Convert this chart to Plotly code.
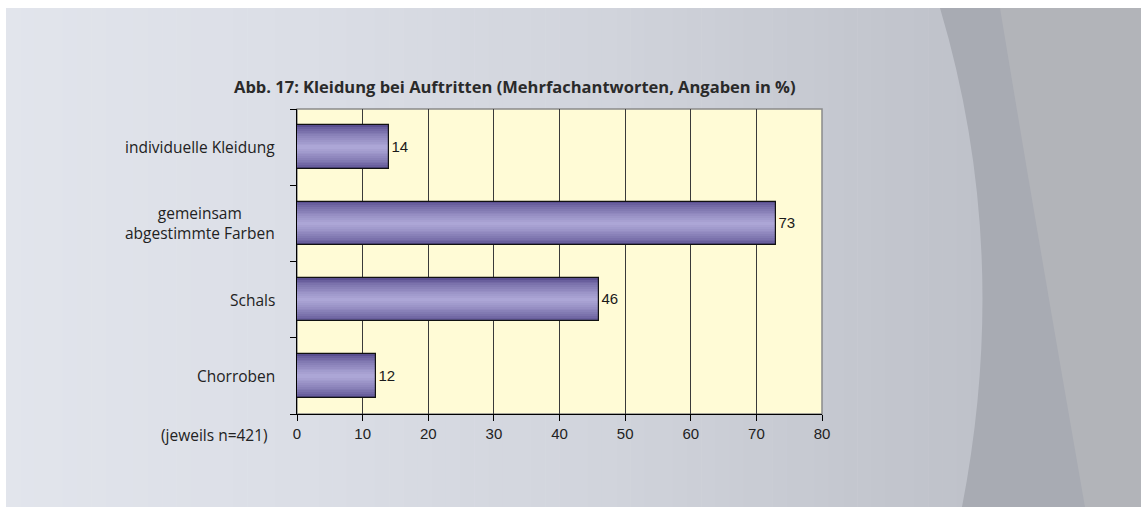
import plotly.graph_objects as go

# ---- data ----
categories = ["individuelle Kleidung", "gemeinsam<br>abgestimmte Farben", "Schals", "Chorroben"]
values = [14, 73, 46, 12]
x_ticks = [0, 10, 20, 30, 40, 50, 60, 70, 80]
title_text = "Abb. 17: Kleidung bei Auftritten (Mehrfachantworten, Angaben in %)"
note_text = "(jeweils n=421)"

W, H = 1141, 508
L, R, T, B = 297, 822, 109, 414  # plot area in pixels


def px(xp):
    return (xp - L) / (R - L)


def py(yp):
    return (B - yp) / (B - T)


def hexmix(c1, c2, t):
    a = [int(c1[i:i + 2], 16) for i in (1, 3, 5)]
    b = [int(c2[i:i + 2], 16) for i in (1, 3, 5)]
    return "#%02x%02x%02x" % tuple(round(a[k] + (b[k] - a[k]) * t) for k in range(3))


fig = go.Figure()

# gradient bars: overlaid layers, outer dark -> inner light
n_layers = 12
full_w = 0.57
dark, light = "#5a4f90", "#aca6d6"
for i in range(n_layers):
    t = i / (n_layers - 1)
    w = full_w * (1 - i / n_layers)
    col = hexmix(dark, light, t ** 0.7)
    fig.add_trace(go.Bar(
        x=values, y=categories, orientation="h", width=w,
        marker=dict(color=col, line=dict(width=0)),
        hoverinfo="skip", showlegend=False,
    ))
# outline + value labels
fig.add_trace(go.Bar(
    x=values, y=categories, orientation="h", width=full_w,
    marker=dict(color="rgba(0,0,0,0)", line=dict(color="#111111", width=1.2)),
    text=[str(v) for v in values], textposition="outside", constraintext="none",
    textfont=dict(family="Liberation Sans, Arial", size=15, color="#1a1a1a"),
    outsidetextfont=dict(family="Liberation Sans, Arial", size=15, color="#1a1a1a"),
    cliponaxis=False, showlegend=False,
))

# ---- background shapes ----
shapes = []
shapes.append(dict(type="rect", xref="paper", yref="paper", x0=px(0), x1=px(W), y0=py(H), y1=py(0),
                   fillcolor="#ffffff", line=dict(width=0), layer="below"))
stops = [(6, "#e2e5ec"), (300, "#dbdee6"), (600, "#d1d4dc"), (900, "#c2c5cd"), (1141, "#b6b9c1")]
n_strips = 80
sw = (W - 6) / n_strips
for k in range(n_strips):
    x0 = 6 + k * sw
    xm = x0 + sw / 2
    for j in range(len(stops) - 1):
        if stops[j][0] <= xm <= stops[j + 1][0]:
            t = (xm - stops[j][0]) / (stops[j + 1][0] - stops[j][0])
            c = hexmix(stops[j][1], stops[j + 1][1], t)
            break
    shapes.append(dict(type="rect", xref="paper", yref="paper", x0=px(x0), x1=px(x0 + sw + 0.6),
                       y0=py(507), y1=py(8), fillcolor=c, line=dict(width=0), layer="below"))


def P(x, y):
    return f"{px(x):.5f},{py(y):.5f}"


pathA = f"M {P(940, 8)} Q {P(1012, 250)} {P(962, 507)} L {P(1141, 507)} L {P(1141, 8)} Z"
shapes.append(dict(type="path", xref="paper", yref="paper", path=pathA,
                   fillcolor="#a8abb3", line=dict(width=0), layer="below"))
pathB = f"M {P(1000, 8)} Q {P(1040, 250)} {P(1085, 507)} L {P(1141, 507)} L {P(1141, 8)} Z"
shapes.append(dict(type="path", xref="paper", yref="paper", path=pathB,
                   fillcolor="#b2b4b9", line=dict(width=0), layer="below"))
# plot area
shapes.append(dict(type="rect", xref="paper", yref="paper", x0=0, x1=1, y0=0, y1=1,
                   fillcolor="#fffbd6", line=dict(color="#8a8a8a", width=1.5), layer="below"))

# ---- annotations ----
label_font = dict(family="Open Sans", size=15.5, color="#222222")
annotations = []
for cat in categories:
    annotations.append(dict(
        x=px(277), y=cat, xref="paper", yref="y", text=cat, showarrow=False,
        xanchor="right", yanchor="middle", align="center", font=label_font,
    ))
annotations.append(dict(
    x=px(515), y=py(86), xref="paper", yref="paper", text="<b>" + title_text + "</b>",
    showarrow=False, xanchor="center", yanchor="middle",
    font=dict(family="Open Sans", size=16.5, color="#2a2a2a"),
))
annotations.append(dict(
    x=px(270), y=py(435), xref="paper", yref="paper", text=note_text, showarrow=False,
    xanchor="right", yanchor="middle", font=label_font,
))

fig.update_layout(
    width=W, height=H,
    margin=dict(l=L, r=W - R, t=T, b=H - B, pad=0),
    paper_bgcolor="#ffffff", plot_bgcolor="rgba(0,0,0,0)",
    barmode="overlay", bargap=0,
    shapes=shapes, annotations=annotations,
    xaxis=dict(range=[0, 80], tickvals=x_ticks, ticktext=[str(v) for v in x_ticks],
               showgrid=True, gridcolor="#3a3a3a", gridwidth=1, zeroline=False,
               showline=True, linecolor="#000000", linewidth=1.2,
               ticks="outside", ticklen=6, tickcolor="#000000",
               tickfont=dict(family="Liberation Sans, Arial", size=15, color="#222222"),
               fixedrange=True),
    yaxis=dict(categoryorder="array", categoryarray=categories[::-1],
               showticklabels=False, tickson="boundaries", ticks="outside", ticklen=6,
               tickcolor="#000000", showgrid=False, zeroline=False,
               showline=True, linecolor="#000000", linewidth=1.2, fixedrange=True),
    showlegend=False,
)

fig.write_html("out.html", config={"displayModeBar": False},
               post_script="document.body.style.margin='0';document.body.style.overflow='hidden';")
